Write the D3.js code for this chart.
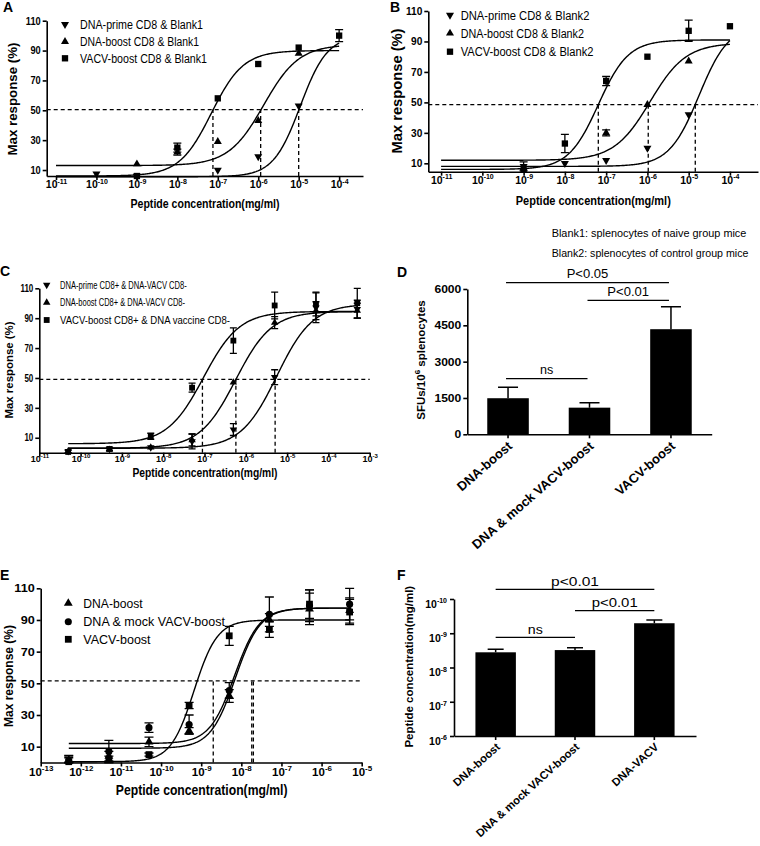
<!DOCTYPE html>
<html><head><meta charset="utf-8">
<script src="https://cdn.jsdelivr.net/npm/d3@7"></script>
<style>
body{margin:0;background:#fff;}
svg{display:block;font-family:"Liberation Sans",Arial,Helvetica,sans-serif;}
</style></head><body>
<svg id="fig" width="760" height="846"></svg>
<script>
// ================= DATA =================
// Panel A
const concA = [1e-10, 1e-9, 1e-8, 1e-7, 1e-6, 1e-5, 1e-4];
const namesA = ["DNA-prime CD8 & Blank1", "DNA-boost CD8 & Blank1", "VACV-boost CD8 & Blank1"];
const primeA = [7.5, 6, null, 10, 19, 53, null];
const boostA = [null, 14, 22, 29, 43, 88, null];
const vacvA  = [null, 6, 25, 58, 81, 92, 100];
const errPrimeA = [0, 0, 0, 0, 0, 0, 0];
const errBoostA = [0, 0, 2, 0, 0, 0, 0];
const errVacvA  = [0, 0, 3, 0, 0, 0, 4];
const fitA = [[5.5, 100, -4.961, 1.3], [13, 94, -5.865, 1], [6, 90, -7.16, 1.1]]; // bottom, top, logEC50, hill
const ec50A = [-7.12, -5.94, -5.0];
const halfA = 50.5;
const xTicksA = [1e-11, 1e-10, 1e-9, 1e-8, 1e-7, 1e-6, 1e-5, 1e-4];
const yTicksA = [10, 30, 50, 70, 90, 110];

// Panel B
const concB = [1e-10, 1e-9, 1e-8, 1e-7, 1e-6, 1e-5, 1e-4];
const namesB = ["DNA-prime CD8 & Blank2", "DNA-boost CD8 & Blank2", "VACV-boost CD8 & Blank2"];
const primeB = [null, 8, 10, 12, 20, 42, null];
const boostB = [null, 7, null, 30, 48.5, 77, null];
const vacvB  = [null, 6, 23, 64, 80, 97, 100];
const errPrimeB = [0, 3, 0, 0, 0, 0, 0];
const errBoostB = [0, 0, 0, 2, 0, 0, 0];
const errVacvB  = [0, 0, 6, 3, 0, 7, 0];
const fitB = [[8, 101, -4.75, 1.2], [12, 89, -5.935, 1], [6, 91, -7.19, 1.2]];
const ec50B = [-7.19, -5.98, -4.84];
const halfB = 48.5;
const notesB = ["Blank1: splenocytes of naive group mice", "Blank2: splenocytes of control group mice"];

// Panel C
const concC = [5e-11, 5e-10, 5e-9, 5e-8, 5e-7, 5e-6, 5e-5, 5e-4];
const namesC = ["DNA-prime CD8+ & DNA-VACV CD8-", "DNA-boost CD8+ & DNA-VACV CD8-", "VACV-boost CD8+ & DNA vaccine CD8-"];
const primeC = [1, 2.5, 3.5, 7.5, 15.5, 50.5, 97, 96];
const boostC = [1, 2, 3.5, 8.5, 47, 87, 95, 95];
const vacvC  = [0.5, 2.5, 11, 43.5, 75, 98.5, 99.5, 100];
const errPrimeC = [0, 0, 0, 5, 4, 5, 10, 6];
const errBoostC = [0, 0, 0, 4, 0, 4, 6, 5];
const errVacvC  = [1, 1, 2, 3, 8.5, 9, 8, 10];
const fitC = [[3, 99.5, -5.25, 1], [3, 94.5, -6.245, 1], [6, 94.5, -7.025, 1]];
const ec50C = [-7.05, -6.24, -5.29];
const halfC = 49;
const xTicksC = [1e-11, 1e-10, 1e-9, 1e-8, 1e-7, 1e-6, 1e-5, 1e-4, 1e-3];

// Panel D
const catsD = ["DNA-boost", "DNA & mock VACV-boost", "VACV-boost"];
const valsD = [1490, 1100, 4340];
const errD  = [450, 200, 930];
const yTicksD = [0, 1500, 3000, 4500, 6000];
const sigPairsD = [[0, 2], [1, 2], [0, 1]];
const sigLabelsD = ["P<0.05", "P<0.01", "ns"];

// Panel E
const concE = [5e-13, 5e-12, 5e-11, 5e-10, 5e-9, 5e-8, 5e-7, 5e-6];
const namesE = ["DNA-boost", "DNA & mock VACV-boost", "VACV-boost"];
const boostE = [1, 4, 13, 20, 42, 90, 97, 96];
const mockE  = [1, 7, 22, 24, 45.5, 93.5, 99, 100];
const vacvE  = [0.5, 2, 5, 36, 80, 84, 100, 95];
const errBoostE = [3, 3, 3, 2, 4, 4, 10, 8];
const errMockE  = [2, 7, 3, 6, 5, 11, 10, 10];
const errVacvE  = [4, 2, 1, 2, 6, 5, 9, 8];
const fitE = [[12, 97.5, -8.17, 1.4], [9, 97.5, -8.15, 1.4], [0.5, 90, -9.18, 1.5]];
const ec50E = [-8.70, -7.74, -7.70];
const halfE = 51.5;
const xTicksE = [1e-13, 1e-12, 1e-11, 1e-10, 1e-9, 1e-8, 1e-7, 1e-6, 1e-5];

// Panel F
const catsF = ["DNA-boost", "DNA & mock VACV-boost", "DNA-VACV"];
const valsF = [3.6e-9, 3.1e-9, 5.1e-10];
const errEndF = [2.95e-9, 2.63e-9, 4.1e-10];
const yTicksF = [1e-10, 1e-9, 1e-8, 1e-7, 1e-6];
const sigPairsF = [[0, 2], [1, 2], [0, 1]];
const sigLabelsF = ["p<0.01", "p<0.01", "ns"];

const xTitle = "Peptide concentration(mg/ml)";
const yTitleDose = "Max response (%)";

// ================= DRAWING =================
const svg = d3.select("#fig");
const BLACK = "#000";

function hill(p, lx) { return p[0] + (p[1] - p[0]) / (1 + Math.pow(10, (p[2] - lx) * p[3])); }

function symPath(type, size) {
  if (type === "square") return d3.symbol(d3.symbolSquare, size)();
  if (type === "circle") return d3.symbol(d3.symbolCircle, size)();
  return d3.symbol(d3.symbolTriangle, size)();
}
function symTransform(type, cx, cy) {
  return `translate(${cx},${cy})` + (type === "down" ? " rotate(180)" : "");
}
function squeeze(sel, f) {
  sel.each(function () {
    const L = this.getComputedTextLength();
    d3.select(this).attr("textLength", L * f).attr("lengthAdjust", "spacingAndGlyphs");
  });
}
function fitLen(sel, len) { sel.attr("textLength", len).attr("lengthAdjust", "spacingAndGlyphs"); }
function fitSize(sel, len) {
  sel.each(function () {
    const s = d3.select(this);
    const fs = parseFloat(s.attr("font-size"));
    const L = this.getComputedTextLength();
    s.attr("font-size", fs * len / L);
  });
}

function supLabels(sel, base, sup) {
  sel.each(function (d) {
    const t = d3.select(this);
    const e = Math.round(Math.log10(d));
    t.text(null);
    t.append("tspan").style("font-size", base + "px").text("10");
    t.append("tspan").style("font-size", sup + "px").attr("dy", -base * 0.42).text(String(e));
  });
}
function styleAxis(g, sw) {
  g.attr("font-family", null).attr("font-size", null);
  g.select(".domain").attr("stroke", BLACK).attr("stroke-width", sw);
  g.selectAll(".tick line").attr("stroke", BLACK).attr("stroke-width", sw);
  g.selectAll(".tick text").attr("fill", BLACK).attr("font-weight", "bold");
}
function panelLabel(t, x, y) {
  svg.append("text").attr("x", x).attr("y", y).attr("font-size", 14).attr("font-weight", "bold").text(t);
}
function rotTitle(g, txt, cx, cy, size, len) {
  const t = g.append("text").attr("transform", `translate(${cx},${cy}) rotate(-90)`)
    .attr("text-anchor", "middle").attr("font-weight", "bold").attr("font-size", size).text(txt);
  if (len) fitLen(t, len);
  return t;
}

function dosePanel(o) {
  const g = svg.append("g");
  const x = d3.scaleLog().domain([Math.pow(10, o.xDom[0]), Math.pow(10, o.xDom[1])]).range(o.xr);
  const y = d3.scaleLinear().domain(o.yDom).range(o.yr);
  const yb = o.yr[0];

  // dashed reference lines
  g.append("line").attr("x1", o.xr[0]).attr("x2", o.xr[1]).attr("y1", y(o.half)).attr("y2", y(o.half))
    .attr("stroke", BLACK).attr("stroke-width", 1.3).attr("stroke-dasharray", "4,3");
  g.selectAll(null).data(o.ec50).join("line")
    .attr("x1", d => x(Math.pow(10, d))).attr("x2", d => x(Math.pow(10, d)))
    .attr("y1", yb).attr("y2", y(o.half))
    .attr("stroke", BLACK).attr("stroke-width", 1.3).attr("stroke-dasharray", "4,3");

  // fitted curves
  const line = d3.line().x(d => x(Math.pow(10, d[0]))).y(d => y(d[1]));
  o.fits.forEach(p => {
    const pts = d3.range(0, 301).map(i => {
      const lx = o.fitRange[0] + (o.fitRange[1] - o.fitRange[0]) * i / 300;
      return [lx, hill(p, lx)];
    });
    g.append("path").attr("d", line(pts)).attr("fill", "none").attr("stroke", BLACK).attr("stroke-width", 1.4);
  });

  // error bars + markers
  o.series.forEach(s => {
    const pts = o.conc.map((c, i) => ({ c, v: s.vals[i], e: s.err ? s.err[i] : 0 })).filter(d => d.v != null);
    g.selectAll(null).data(pts.filter(d => d.e > 0)).join("path")
      .attr("d", d => {
        const cx = x(d.c), t = y(d.v + d.e), b = y(Math.max(o.yDom[0], d.v - d.e));
        const c = o.cap;
        return `M${cx},${t}V${b}M${cx - c},${t}H${cx + c}M${cx - c},${b}H${cx + c}`;
      })
      .attr("stroke", BLACK).attr("stroke-width", 1.3).attr("fill", "none");
    g.selectAll(null).data(pts).join("path")
      .attr("d", symPath(s.type, s.size))
      .attr("transform", d => symTransform(s.type, x(d.c), y(d.v)))
      .attr("fill", BLACK);
  });

  // axes
  const xa = g.append("g").attr("transform", `translate(0,${yb})`)
    .call(d3.axisBottom(x).tickValues(o.xTicks).tickSize(4).tickSizeOuter(0));
  styleAxis(xa, 1.6);
  xa.selectAll(".tick text").attr("y", o.xTickDy).attr("dy", null);
  supLabels(xa.selectAll(".tick text"), o.xTickFont[0], o.xTickFont[1]);

  const ya = g.append("g").attr("transform", `translate(${o.xr[0]},0)`)
    .call(d3.axisLeft(y).tickValues(o.yTicks).tickSize(4).tickSizeOuter(0).tickPadding(2));
  styleAxis(ya, 1.6);
  ya.selectAll(".tick text").attr("font-size", o.yTickFont);
  squeeze(ya.selectAll(".tick text"), o.yTickSqueeze);

  // titles
  const xt = g.append("text").attr("x", o.xTitle[0]).attr("y", o.xTitle[1]).attr("text-anchor", "middle")
    .attr("font-weight", "bold").attr("font-size", o.xTitle[2]).text(xTitle);
  fitLen(xt, o.xTitle[3]);
  rotTitle(g, yTitleDose, o.yTitle[0], o.yTitle[1], o.yTitle[2], o.yTitle[3]);

  // legend
  o.series.forEach((s, i) => {
    const cy = o.legend.rows[i];
    g.append("path").attr("d", symPath(s.type, s.size)).attr("transform", symTransform(s.type, o.legend.mx, cy)).attr("fill", BLACK);
    const t = g.append("text").attr("x", o.legend.tx).attr("y", cy + o.legend.size * 0.36)
      .attr("font-size", o.legend.size).text(o.names[i]);
    fitLen(t, o.legend.lens[i]);
  });
  return g;
}

// ---- Panel A ----
panelLabel("A", 3, 12);
dosePanel({
  xr: [46.7, 363], xDom: [-11.23, -3.41], yr: [176, 20.7], yDom: [6, 110],
  xTicks: xTicksA, yTicks: yTicksA, xTickDy: 12, xTickFont: [10.5, 7], yTickFont: 10.5, yTickSqueeze: 0.88,
  conc: concA, names: namesA, cap: 4,
  series: [
    { vals: primeA, err: errPrimeA, type: "down", size: 28 },
    { vals: boostA, err: errBoostA, type: "up", size: 28 },
    { vals: vacvA, err: errVacvA, type: "square", size: 40 }
  ],
  fits: fitA, fitRange: [-11, -4], half: halfA, ec50: ec50A,
  xTitle: [205, 208, 12.5, 149], yTitle: [17, 99, 13, 113],
  legend: { mx: 65, tx: 80, rows: [24.3, 41.7, 58.3], size: 12.5, lens: [123, 119, 127] }
});

// ---- Panel B ----
panelLabel("B", 390, 12);
dosePanel({
  xr: [428.3, 758], xDom: [-11.31, -3.32], yr: [171.7, 11], yDom: [4.5, 110],
  xTicks: xTicksA, yTicks: yTicksA, xTickDy: 12, xTickFont: [10.5, 7], yTickFont: 11, yTickSqueeze: 0.92,
  conc: concB, names: namesB, cap: 4,
  series: [
    { vals: primeB, err: errPrimeB, type: "down", size: 28 },
    { vals: boostB, err: errBoostB, type: "up", size: 28 },
    { vals: vacvB, err: errVacvB, type: "square", size: 40 }
  ],
  fits: fitB, fitRange: [-11, -4], half: halfB, ec50: ec50B,
  xTitle: [593.3, 205, 13, 155], yTitle: [402, 91, 14, 125],
  legend: { mx: 450, tx: 460.7, rows: [15, 33.3, 51.7], size: 12.5, lens: [128.7, 123.3, 132.7] }
});
svg.selectAll(null).data(notesB).join("text")
  .attr("x", 551.7).attr("y", (d, i) => 237 + i * 20).attr("font-size", 12).text(d => d)
  .call(s => s.each(function (d, i) { fitSize(d3.select(this), [195, 197][i]); }));

// ---- Panel C ----
panelLabel("C", 0, 275.5);
dosePanel({
  xr: [39.3, 369.7], xDom: [-11, -3], yr: [452.7, 288.3], yDom: [0, 110],
  xTicks: xTicksC, yTicks: yTicksA, xTickDy: 9.5, xTickFont: [9, 6], yTickFont: 10, yTickSqueeze: 0.8,
  conc: concC, names: namesC, cap: 3.5,
  series: [
    { vals: primeC, err: errPrimeC, type: "down", size: 24 },
    { vals: boostC, err: errBoostC, type: "up", size: 24 },
    { vals: vacvC, err: errVacvC, type: "square", size: 34 }
  ],
  fits: fitC, fitRange: [-10.3, -3.3], half: halfC, ec50: ec50C,
  xTitle: [205, 477, 12, 145], yTitle: [13, 370, 11.5, 97],
  legend: { mx: 46.7, tx: 60, rows: [285, 302.5, 320], size: 11, lens: [126.7, 125, 170] }
});

// ---- Panel D ----
panelLabel("D", 397, 277);
(function () {
  const g = svg.append("g");
  const x = d3.scaleBand().domain(catsD).range([467.3, 711.7]).paddingInner(0.49).paddingOuter(0.245);
  const y = d3.scaleLinear().domain([0, 6000]).range([434.3, 289]);
  const cx = c => x(c) + x.bandwidth() / 2;
  g.selectAll(null).data(catsD).join("rect")
    .attr("x", c => x(c)).attr("y", (c, i) => y(valsD[i])).attr("width", x.bandwidth())
    .attr("height", (c, i) => y(0) - y(valsD[i])).attr("fill", BLACK);
  g.selectAll(null).data(catsD).join("path")
    .attr("d", (c, i) => { const X = cx(c), t = y(valsD[i] + errD[i]), b = y(valsD[i]); return `M${X},${b}V${t}M${X - 10},${t}H${X + 10}`; })
    .attr("stroke", BLACK).attr("stroke-width", 1.5).attr("fill", "none");
  const xa = g.append("g").attr("transform", `translate(0,${y(0)})`).call(d3.axisBottom(x).tickSize(4).tickSizeOuter(0));
  styleAxis(xa, 1.6);
  xa.selectAll(".tick text").attr("x", null).attr("y", null).attr("dy", null)
    .attr("text-anchor", "end").attr("font-size", 13)
    .attr("transform", "translate(5,13) rotate(-41)");
  const ya = g.append("g").attr("transform", `translate(${x.range()[0]},0)`)
    .call(d3.axisLeft(y).tickValues(yTicksD).tickFormat(d3.format("d")).tickSize(4).tickSizeOuter(0).tickPadding(2));
  styleAxis(ya, 1.6);
  ya.selectAll(".tick text").attr("font-size", 10.5);
  squeeze(ya.selectAll(".tick text"), 1.15);
  // y title with superscript
  const yt = g.append("text").attr("transform", "translate(425,360) rotate(-90)").attr("text-anchor", "middle")
    .attr("font-weight", "bold").attr("font-size", 11.5);
  yt.append("tspan").text("SFUs/10");
  yt.append("tspan").attr("font-size", 8).attr("dy", -5).text("6");
  yt.append("tspan").attr("dy", 5).text(" splenocytes");
  // significance
  const lvl = [282.7, 300.3, 378.7];
  const lens = [41.7, 41.7, 13.3];
  sigPairsD.forEach((p, i) => {
    const x1 = cx(catsD[p[0]]) - 2, x2 = cx(catsD[p[1]]) - 2;
    g.append("line").attr("x1", x1).attr("x2", x2).attr("y1", lvl[i]).attr("y2", lvl[i]).attr("stroke", BLACK).attr("stroke-width", 1.3);
    const t = g.append("text").attr("x", (x1 + x2) / 2).attr("y", lvl[i] - 4.5).attr("text-anchor", "middle").attr("font-size", 12).text(sigLabelsD[i]);
    fitLen(t, lens[i]);
  });
})();

// ---- Panel E ----
panelLabel("E", 0, 580);
dosePanel({
  xr: [40.7, 361.7], xDom: [-13, -5], yr: [762.5, 588.3], yDom: [0, 110],
  xTicks: xTicksE, yTicks: yTicksA, xTickDy: 13, xTickFont: [11.5, 8], yTickFont: 11.5, yTickSqueeze: 1.1,
  conc: concE, names: namesE, cap: 4.5,
  series: [
    { vals: boostE, err: errBoostE, type: "up", size: 34 },
    { vals: mockE, err: errMockE, type: "circle", size: 40 },
    { vals: vacvE, err: errVacvE, type: "square", size: 46 }
  ],
  fits: fitE, fitRange: [-12.3, -5.3], half: halfE, ec50: ec50E,
  xTitle: [201.7, 795, 14, 171.7], yTitle: [13, 676, 12.5, 102],
  legend: { mx: 68.3, tx: 83.3, rows: [603.3, 621.7, 639.3], size: 13, lens: [59.3, 141.7, 67.3] }
});

// ---- Panel F ----
panelLabel("F", 397, 580);
(function () {
  const g = svg.append("g");
  const x = d3.scaleBand().domain(catsF).range([454, 696]).paddingInner(0.49).paddingOuter(0.27);
  const y = d3.scaleLog().domain([1e-10, 1e-6]).range([599, 736]);
  const cx = c => x(c) + x.bandwidth() / 2;
  g.selectAll(null).data(catsF).join("rect")
    .attr("x", c => x(c)).attr("y", (c, i) => y(valsF[i])).attr("width", x.bandwidth())
    .attr("height", (c, i) => y(1e-6) - y(valsF[i])).attr("fill", BLACK);
  g.selectAll(null).data(catsF).join("path")
    .attr("d", (c, i) => { const X = cx(c), t = y(errEndF[i]), b = y(valsF[i]); return `M${X},${b}V${t}M${X - 8},${t}H${X + 8}`; })
    .attr("stroke", BLACK).attr("stroke-width", 1.5).attr("fill", "none");
  const xa = g.append("g").attr("transform", `translate(0,${y(1e-6)})`).call(d3.axisBottom(x).tickSize(4).tickSizeOuter(0));
  styleAxis(xa, 1.6);
  xa.selectAll(".tick text").attr("x", null).attr("y", null).attr("dy", null)
    .attr("text-anchor", "end").attr("font-size", 11.2)
    .attr("transform", "translate(5,12) rotate(-42)");
  const ya = g.append("g").attr("transform", `translate(${x.range()[0]},0)`)
    .call(d3.axisLeft(y).tickValues(yTicksF).tickSize(4).tickSizeOuter(0).tickPadding(3));
  styleAxis(ya, 1.6);
  ya.selectAll(".tick text").attr("dy", "0.5em");
  supLabels(ya.selectAll(".tick text"), 10.5, 7);
  rotTitle(g, xTitle, 413, 666.7, 11.5, 161.7);
  const lvl = [589.3, 610.7, 637.3];
  const lens = [48, 46, 15];
  sigPairsF.forEach((p, i) => {
    const x1 = cx(catsF[p[0]]), x2 = cx(catsF[p[1]]);
    g.append("line").attr("x1", x1).attr("x2", x2).attr("y1", lvl[i]).attr("y2", lvl[i]).attr("stroke", BLACK).attr("stroke-width", 1.3);
    const t = g.append("text").attr("x", (x1 + x2) / 2).attr("y", lvl[i] - 3.5).attr("text-anchor", "middle").attr("font-size", 13).text(sigLabelsF[i]);
    fitLen(t, lens[i]);
  });
})();
</script>
</body></html>
